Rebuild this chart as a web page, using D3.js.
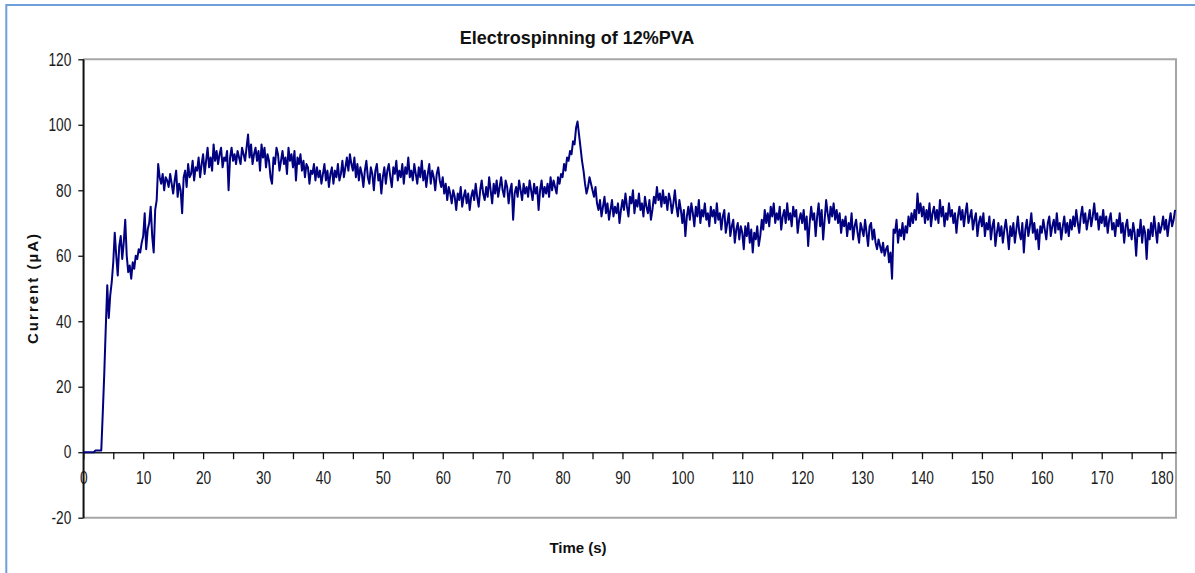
<!DOCTYPE html>
<html>
<head>
<meta charset="utf-8">
<script src="https://cdn.jsdelivr.net/npm/d3@7"></script>
<style>
  html, body { margin: 0; padding: 0; background: #fff; }
  svg { display: block; }
</style>
</head>
<body>
<svg id="chart" width="1195" height="573"></svg>
<script>
// Electrospinning current trace, sampled every 0.25 s (µA)
const sampleStep = 0.25;
const current = [
  0,0,0,0,0,0,0,0,0.5,0.5,0.5,0.5,0.5,12,24,38,51,41,48,52,
  58,67,60,54,63,66,59,64,71,60,55,57,53,58,56,60,59,62,61,64,
  66,73,62,68,70,75,66,61,74,77,88,84,82,85,80,84,83,81,85,82,
  79,83,86,78,82,80,73,84,86,81,88,84,85,89,83,87,86,90,84,88,
  91,85,89,93,87,90,86,94,89,92,88,91,93,87,90,89,92,80,90,93,
  89,91,88,92,90,88,93,91,89,93,97,90,94,88,91,93,89,92,86,94,
  90,93,87,91,89,84,82,90,88,93,91,86,89,92,88,90,85,93,89,91,
  87,92,83,90,88,91,86,89,84,88,87,82,86,85,88,83,87,84,86,82,
  85,88,83,86,81,85,87,82,86,84,88,83,85,89,84,87,90,86,91,88,
  86,90,84,88,83,87,85,81,86,89,84,82,87,85,80,86,88,83,85,79,
  84,87,82,86,88,84,81,87,85,89,83,86,84,88,82,87,85,90,84,86,
  83,88,85,82,87,84,89,83,86,81,85,88,82,86,84,80,85,87,83,81,
  84,79,82,77,81,79,76,80,78,74,79,77,81,75,78,80,76,79,74,78,
  80,77,82,78,75,80,83,79,77,81,78,84,80,76,82,79,83,78,81,84,
  80,78,83,81,76,80,82,71,79,81,78,83,80,77,82,79,81,78,83,80,
  77,82,79,81,74,80,83,78,81,79,82,78,84,80,83,81,79,84,82,85,
  84,88,86,90,89,92,91,95,94,99,101,97,93,89,86,82,79,81,84,82,
  80,78,81,76,74,77,72,75,78,73,76,71,74,77,72,75,73,76,70,74,
  77,74,79,75,72,78,76,80,73,77,75,79,74,76,72,78,75,73,77,71,
  74,78,76,81,77,79,75,80,76,78,74,79,77,73,76,80,75,72,77,74,
  70,74,66,72,75,71,76,73,69,75,72,77,70,74,72,76,71,73,69,75,
  72,74,70,76,71,73,68,72,74,67,70,73,66,69,71,64,68,70,65,69,
  67,62,69,66,70,64,68,61,67,65,69,63,66,71,68,74,70,73,69,75,
  72,76,70,73,71,75,68,72,74,70,76,71,73,69,75,72,74,67,71,73,
  70,74,68,72,63,70,75,71,73,66,72,76,69,74,65,71,77,73,70,75,
  72,76,71,74,70,73,67,71,69,72,66,70,68,73,65,69,71,67,64,70,
  68,66,71,67,63,69,70,65,68,64,62,65,63,61,64,60,62,63,58,61,
  53,68,67,71,64,68,66,70,65,69,67,72,69,73,70,74,71,79,73,76,
  72,75,70,74,71,76,69,73,75,71,74,70,77,72,75,69,73,71,76,72,
  74,70,73,67,72,75,71,74,69,73,76,70,72,74,68,71,73,66,70,72,
  69,73,66,70,68,72,65,69,71,63,67,70,66,69,64,68,71,67,62,69,
  66,70,64,68,72,67,65,70,61,68,71,66,69,73,67,70,65,68,62,69,
  67,71,68,65,70,72,66,69,71,67,73,68,70,65,69,72,67,70,66,71,
  68,72,69,74,70,67,72,75,70,73,68,71,74,69,72,76,71,73,68,72,
  70,74,69,72,67,71,73,68,70,66,71,69,73,67,70,64,69,71,66,68,
  65,70,67,60,68,66,71,64,69,67,59,68,65,70,66,72,68,64,70,67,
  69,72,68,71,66,70,73,69,71,74
];

const xTicksMajor = [0,10,20,30,40,50,60,70,80,90,100,110,120,130,140,150,160,170,180];
const xTicksMinor = [5,15,25,35,45,55,65,75,85,95,105,115,125,135,145,155,165,175];
const yTicks = [-20,0,20,40,60,80,100,120];

const titleText = "Electrospinning of 12%PVA";
const xLabel = "Time (s)";
const yLabel = "Current  (µA)";

const svg = d3.select("#chart");
const W = 1195, H = 573;

// outer frame
svg.append("rect").attr("x", 0).attr("y", 0).attr("width", W).attr("height", H).attr("fill", "#fff");
svg.append("line").attr("x1", 6).attr("x2", W).attr("y1", 5).attr("y2", 5)
  .attr("stroke", "#6f9fd8").attr("stroke-width", 2);
svg.append("line").attr("x1", 6.3).attr("x2", 6.3).attr("y1", 4).attr("y2", H)
  .attr("stroke", "#6f9fd8").attr("stroke-width", 2);

const plot = { left: 83.3, right: 1176, top: 59.3, bottom: 517.7 };
const x = d3.scaleLinear().domain([0, 182.4]).range([plot.left, plot.right]);
const y = d3.scaleLinear().domain([-20, 120]).range([plot.bottom, plot.top]);

// plot frame (top, right, bottom)
svg.append("path")
  .attr("d", `M${plot.left},${plot.top}H${plot.right}V${plot.bottom}H${plot.left}`)
  .attr("fill", "none").attr("stroke", "#a6a6a6").attr("stroke-width", 2);

const tickFont = "'Liberation Sans', Arial, sans-serif";
const squeeze = 0.76;

// y axis
const yAxis = svg.append("g").attr("transform", `translate(${plot.left},0)`)
  .call(d3.axisLeft(y).tickValues(yTicks).tickSize(5).tickSizeOuter(0).tickPadding(8)
    .tickFormat(d => String(d)));
yAxis.select(".domain").attr("stroke", "#111").attr("stroke-width", 1.5);
yAxis.selectAll(".tick line").attr("stroke", "#111").attr("stroke-width", 1.3);
yAxis.selectAll(".tick text")
  .attr("font-family", tickFont).attr("font-size", 18).attr("fill", "#1a1a1a")
  .attr("x", -12)
  .each(function () {
    const w = this.getComputedTextLength();
    d3.select(this).attr("textLength", w * squeeze).attr("lengthAdjust", "spacingAndGlyphs");
  });

// x axis through zero
const xAxisG = svg.append("g").attr("transform", `translate(0,${y(0)})`);
xAxisG.call(d3.axisBottom(x).tickValues(xTicksMajor.concat(xTicksMinor).sort((a, b) => a - b))
  .tickSize(7).tickSizeOuter(0)
  .tickFormat(d => xTicksMajor.includes(d) ? String(d) : ""));
xAxisG.select(".domain").attr("stroke", "#222").attr("stroke-width", 1.6);
xAxisG.selectAll(".tick line").attr("stroke", "#111").attr("stroke-width", 1.3);
xAxisG.selectAll(".tick text")
  .attr("font-family", tickFont).attr("font-size", 18).attr("fill", "#1a1a1a")
  .attr("y", 25).attr("dy", "0.35em")
  .each(function () {
    const w = this.getComputedTextLength();
    if (w > 0) d3.select(this).attr("textLength", w * squeeze).attr("lengthAdjust", "spacingAndGlyphs");
  });

// y axis line down to -20
svg.append("line").attr("x1", plot.left).attr("x2", plot.left)
  .attr("y1", plot.top).attr("y2", plot.bottom)
  .attr("stroke", "#111").attr("stroke-width", 1.5);

// current trace
const line = d3.line()
  .x((d, i) => x(i * sampleStep))
  .y(d => y(d));
svg.append("path").datum(current)
  .attr("d", line)
  .attr("fill", "none")
  .attr("stroke", "#000080")
  .attr("stroke-width", 2)
  .attr("stroke-linejoin", "round");

// title and axis labels
svg.append("text").attr("x", 577).attr("y", 38).attr("dy", "0.35em")
  .attr("text-anchor", "middle")
  .attr("font-family", tickFont).attr("font-weight", "bold").attr("font-size", 18)
  .attr("fill", "#111").text(titleText);

svg.append("text").attr("x", 578).attr("y", 548).attr("dy", "0.35em")
  .attr("text-anchor", "middle")
  .attr("font-family", tickFont).attr("font-weight", "bold").attr("font-size", 15)
  .attr("fill", "#111").text(xLabel);

svg.append("text")
  .attr("transform", `translate(33,${289}) rotate(-90)`)
  .attr("dy", "0.35em")
  .attr("text-anchor", "middle")
  .attr("font-family", tickFont).attr("font-weight", "bold").attr("font-size", 15)
  .attr("textLength", 110).attr("lengthAdjust", "spacing")
  .attr("fill", "#111").text(yLabel);
</script>
</body>
</html>
